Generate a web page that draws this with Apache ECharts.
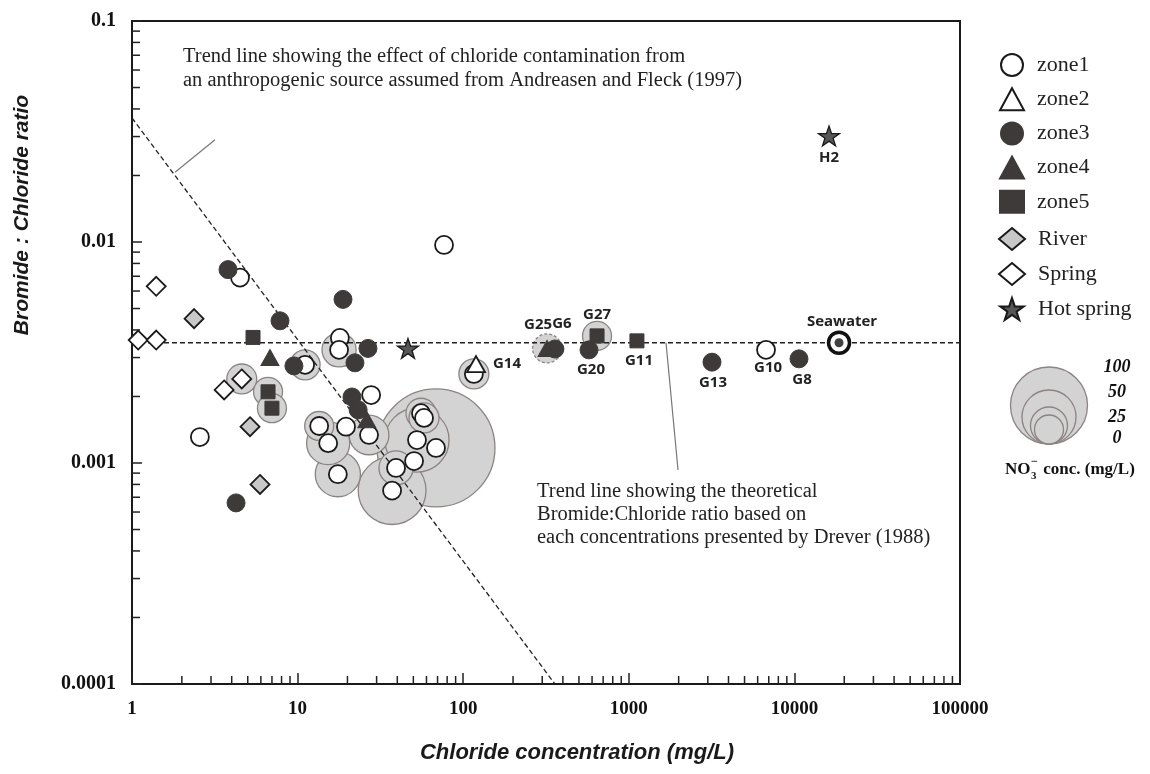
<!DOCTYPE html>
<html><head><meta charset="utf-8">
<script src="https://cdn.jsdelivr.net/npm/echarts@6/dist/echarts.min.js"></script>
<style>html,body{margin:0;padding:0;background:#fff}#c{width:1150px;height:774px}</style>
</head><body><div id="c"></div>
<script>
// ---------- data ----------
const xTickLabels = ['1','10','100','1000','10000','100000'];
const yTickLabels = ['0.0001','0.001','0.01','0.1'];
const xMinorTicks = [2,3,4,5,6,7,8,9,20,30,40,50,60,70,80,90,200,300,400,500,600,700,800,900,
  2000,3000,4000,5000,6000,7000,8000,9000,20000,30000,40000,50000,60000,70000,80000,90000];
const yMinorTicks = [0.0002,0.0003,0.0004,0.0005,0.0006,0.0007,0.0008,0.0009,
  0.002,0.003,0.004,0.005,0.006,0.007,0.008,0.009,0.02,0.03,0.04,0.05,0.06,0.07,0.08,0.09];

// [chloride mg/L, Br:Cl ratio, NO3 mg/L (null = not shown), label]
const zone1 = [
  [4.49, 0.0069, null, ''], [2.57, 0.00131, null, ''], [76.6, 0.0097, null, ''],
  [11.1, 0.00278, 3, ''], [18.0, 0.00368, null, ''], [17.8, 0.00325, 16, ''],
  [27.8, 0.00203, null, ''], [27.0, 0.00134, 29, ''], [13.5, 0.00147, 0, ''],
  [19.6, 0.00146, null, ''], [15.3, 0.00123, 34, ''], [17.5, 0.00089, 37, ''],
  [39.3, 0.00095, 16, ''], [37.2, 0.00075, 80, ''], [55.6, 0.00168, 3, ''],
  [58.0, 0.00160, 3, ''], [52.6, 0.00127, 72, ''], [68.5, 0.00117, 189, ''],
  [50.5, 0.00102, null, ''], [116, 0.00253, 3, ''], [6740, 0.00325, null, 'G10']
];
const zone2 = [ [119.5, 0.0028, null, 'G14'] ];
const zone3 = [
  [3.8, 0.0075, null, ''], [7.83, 0.0044, null, ''], [9.5, 0.00275, null, ''],
  [4.25, 0.00066, null, ''], [18.8, 0.0055, null, ''], [26.6, 0.0033, null, ''],
  [22.2, 0.00284, null, ''], [21.3, 0.00199, null, ''], [23.2, 0.00174, null, ''],
  [358, 0.00328, null, 'G6'], [575, 0.00325, null, 'G20'], [3180, 0.00286, null, 'G13'],
  [10660, 0.00296, null, 'G8']
];
const zone4 = [ [6.81, 0.0030, null, ''], [26.2, 0.00157, null, ''], [321, 0.0033, 0, 'G25'] ];
const zone5 = [
  [5.38, 0.0037, null, ''], [6.63, 0.0021, 0, ''], [7.0, 0.00177, 0, ''],
  [643, 0.00376, 0, 'G27'], [1120, 0.00357, null, 'G11']
];
const river = [ [2.37, 0.0045, null, ''], [5.16, 0.00146, null, ''], [5.93, 0.0008, null, ''] ];
const spring = [ [1.09, 0.0036, null, ''], [1.40, 0.0036, null, ''], [1.40, 0.0063, null, ''],
  [3.6, 0.00214, null, ''], [4.6, 0.0024, 3, ''] ];
const hotSpring = [ [46.4, 0.0033, null, ''], [16180, 0.0302, null, 'H2'] ];
const seawater = [ [18600, 0.0035, null, 'Seawater'] ];

const dreverLine = [[1, 0.0035], [100000, 0.0035]];
const andreasenLine = [[1, 0.0364], [358, 0.0001]];
const leader1 = [[1.82, 0.0207], [3.17, 0.029]];
const leader2 = [[1678, 0.0035], [1983, 0.00093]];

const no3LegendValues = [100, 50, 25, 0];
const annotation1 = 'Trend line showing the effect of chloride contamination from\nan anthropogenic source assumed from Andreasen and Fleck (1997)';
const annotation2 = 'Trend line showing the theoretical\nBromide:Chloride ratio based on\neach concentrations presented by Drever (1988)';

// ---------- styling / helpers ----------
const no3Scale = [0, 25, 50, 100];
const no3Diam = [29, 37, 54, 77];
function no3Size(v) {
  if (v <= no3Scale[0]) return no3Diam[0];
  for (let i = 1; i < no3Scale.length; i++) {
    if (v <= no3Scale[i]) {
      const t = (v - no3Scale[i-1]) / (no3Scale[i] - no3Scale[i-1]);
      return no3Diam[i-1] + t * (no3Diam[i] - no3Diam[i-1]);
    }
  }
  const n = no3Scale.length;
  const slope = (no3Diam[n-1] - no3Diam[n-2]) / (no3Scale[n-1] - no3Scale[n-2]);
  return no3Diam[n-1] + (v - no3Scale[n-1]) * slope;
}
const labelOffsets = {
  G10:[2,18], G14:[31,0], G25:[-9,-24], G6:[7,-25], G27:[0,-21], G20:[2,20],
  G11:[2,20], G13:[1,21], G8:[3,21], Seawater:[3,-21], H2:[0,22]
};
const dashedHalo = { G25: true };
const DARK = '#3e3a3a';
const STAR = 'path://M50,0 L61.8,35.1 L98.9,35.1 L69,56.9 L80.3,91.9 L50,70.3 L19.7,91.9 L31,56.9 L1.1,35.1 L38.2,35.1 Z';

function pts(arr) {
  return arr.map(d => {
    const o = { value: [d[0], d[1]], name: d[3] };
    if (d[3] && labelOffsets[d[3]]) o.label = { show: true, offset: labelOffsets[d[3]] };
    return o;
  });
}
const allGroups = [zone1, zone2, zone3, zone4, zone5, river, spring, hotSpring];
let bubbles = [];
allGroups.forEach(g => g.forEach(d => { if (d[2] !== null) bubbles.push(d); }));
bubbles.sort((a, b) => b[2] - a[2]);
const bubbleData = bubbles.map(d => ({
  value: [d[0], d[1], d[2]],
  itemStyle: dashedHalo[d[3]] ? { borderType: [3, 2] } : undefined
}));

const labelStyle = {
  show: false, position: 'inside', formatter: '{b}', color: '#222',
  fontFamily: 'Open Sans', fontWeight: 'bold', fontSize: 15
};
function scat(name, arr, symbol, size, fill, border, bw, extra) {
  return Object.assign({
    name, type: 'scatter', data: pts(arr), symbol, symbolSize: size, symbolKeepAspect: true,
    itemStyle: { color: fill, borderColor: border, borderWidth: bw, opacity: 1 },
    label: labelStyle, z: 3, silent: true
  }, extra || {});
}

const tickStyle = { stroke: '#222', lineWidth: 1.5 };
const legendText = { fontFamily: 'Liberation Serif', fontSize: 22, color: '#222', padding: [0, 0, 0, 8] };
const option = {
  animation: false,
  grid: { left: 132, right: 190, top: 21, bottom: 90, show: true, borderColor: '#1a1a1a', borderWidth: 2 },
  xAxis: {
    type: 'log', logBase: 10, min: 1, max: 100000,
    axisLine: { show: true, lineStyle: { color: '#1a1a1a', width: 2 } },
    axisTick: { show: true, inside: true, length: 11, lineStyle: { color: '#222', width: 1.5 } },
    splitLine: { show: false },
    axisLabel: { formatter: (v, i) => xTickLabels[i], fontFamily: 'Liberation Serif', fontWeight: 'bold',
      fontSize: 19, color: '#111', margin: 16 }
  },
  yAxis: {
    type: 'log', logBase: 10, min: 0.0001, max: 0.1,
    axisLine: { show: true, lineStyle: { color: '#1a1a1a', width: 2 } },
    axisTick: { show: true, inside: true, length: 10, lineStyle: { color: '#222', width: 1.5 } },
    splitLine: { show: false },
    axisLabel: { formatter: (v, i) => yTickLabels[i], fontFamily: 'Liberation Serif', fontWeight: 'bold',
      fontSize: 20, color: '#111', margin: 16 }
  },
  legend: [
    { data: ['zone1','zone2','zone3','zone4','zone5'], orient: 'vertical', left: 999, top: 53,
      itemWidth: 24, itemHeight: 22, itemGap: 10.2, padding: 0, selectedMode: false, textStyle: legendText },
    { data: ['River','Spring','Hot spring'], orient: 'vertical', left: 998, top: 227,
      itemWidth: 26, itemHeight: 22, itemGap: 11, padding: 0, selectedMode: false, textStyle: legendText }
  ],
  graphic: [],
  series: [
    { name: 'NO3', type: 'scatter', data: bubbleData, symbolSize: v => no3Size(v[2]), z: 1, silent: true,
      itemStyle: { color: '#d3d3d3', borderColor: '#8b8482', borderWidth: 1.3, opacity: 1 } },
    { type: 'line', data: dreverLine, showSymbol: false, z: 2, silent: true,
      lineStyle: { color: '#222', width: 1.3, type: [5, 3] } },
    { type: 'line', data: andreasenLine, showSymbol: false, z: 2, silent: true,
      lineStyle: { color: '#222', width: 1.3, type: [5, 3] } },
    { type: 'line', data: leader1, showSymbol: false, z: 2, silent: true,
      lineStyle: { color: '#777', width: 1.2 } },
    { type: 'line', data: leader2, showSymbol: false, z: 2, silent: true,
      lineStyle: { color: '#777', width: 1.2 } },
    scat('zone1', zone1, 'circle', 18, '#fff', '#1a1a1a', 1.8),
    scat('zone2', zone2, 'triangle', [18, 16], '#fff', '#1a1a1a', 1.8),
    scat('zone3', zone3, 'circle', 18, DARK, DARK, 1),
    scat('zone4', zone4, 'triangle', [18, 16], DARK, DARK, 1),
    scat('zone5', zone5, 'rect', 14, DARK, DARK, 1),
    scat('River', river, 'diamond', [19, 19], '#c8c8c8', '#1a1a1a', 1.8),
    scat('Spring', spring, 'diamond', [19, 19], '#fff', '#1a1a1a', 1.8),
    scat('Hot spring', hotSpring, STAR, 21, '#575757', '#1a1a1a', 1.3),
    scat('Seawater', seawater, 'circle', 21, '#fff', '#111', 3.5),
    { type: 'scatter', data: seawater.map(d => [d[0], d[1]]), symbol: 'circle', symbolSize: 9, z: 4, silent: true,
      itemStyle: { color: '#111' } },
    { type: 'custom', silent: true, z: 5, clip: false,
      data: xMinorTicks.map(v => [v, 0.0001]),
      renderItem: (params, api) => {
        const p = api.coord([api.value(0), api.value(1)]);
        return { type: 'line', shape: { x1: p[0], y1: p[1], x2: p[0], y2: p[1] - 8 }, style: tickStyle };
      } },
    { type: 'custom', silent: true, z: 5, clip: false,
      data: yMinorTicks.map(v => [1, v]),
      renderItem: (params, api) => {
        const p = api.coord([api.value(0), api.value(1)]);
        return { type: 'line', shape: { x1: p[0], y1: p[1], x2: p[0] + 8, y2: p[1] }, style: tickStyle };
      } }
  ]
};

// annotations, axis titles and NO3 size legend
const g = option.graphic;
g.push({ type: 'text', left: 183, top: 45, silent: true,
  style: { text: annotation1, font: '20.5px "Liberation Serif"', lineHeight: 24, fill: '#222' } });
g.push({ type: 'text', left: 537, top: 480, silent: true,
  style: { text: annotation2, font: '20.5px "Liberation Serif"', lineHeight: 23, fill: '#222' } });
g.push({ type: 'text', x: 577, y: 753, silent: true,
  style: { text: 'Chloride concentration (mg/L)', font: 'italic bold 22px "Liberation Sans"', fill: '#1a1a1a',
    align: 'center', verticalAlign: 'middle' } });
g.push({ type: 'text', x: 22, y: 215, rotation: Math.PI / 2, silent: true,
  style: { text: 'Bromide : Chloride ratio', font: 'italic bold 21px "Liberation Sans"', fill: '#1a1a1a',
    align: 'center', verticalAlign: 'middle' } });
const legBottom = 444, legCx = 1049;
const legLabelY = [367, 392, 417, 438];
no3LegendValues.forEach((v, i) => {
  const r = no3Size(v) / 2;
  g.push({ type: 'circle', silent: true, shape: { cx: legCx, cy: legBottom - r, r: r },
    style: { fill: '#d3d3d3', stroke: '#8b8482', lineWidth: 1.3 } });
  g.push({ type: 'text', x: 1117, y: legLabelY[i], silent: true,
    style: { text: String(v), font: 'italic bold 18px "Liberation Serif"', fill: '#111', align: 'center', verticalAlign: 'middle' } });
});
g.push({ type: 'text', x: 1005, y: 470, silent: true,
  style: { text: 'NO', font: 'bold 17px "Liberation Serif"', fill: '#111', verticalAlign: 'middle' } });
g.push({ type: 'text', x: 1031, y: 476, silent: true,
  style: { text: '3', font: 'bold 11px "Liberation Serif"', fill: '#111', verticalAlign: 'middle' } });
g.push({ type: 'text', x: 1031, y: 462, silent: true,
  style: { text: '\u2212', font: 'bold 12px "Liberation Serif"', fill: '#111', verticalAlign: 'middle' } });
g.push({ type: 'text', x: 1039, y: 470, silent: true,
  style: { text: ' conc. (mg/L)', font: 'bold 17px "Liberation Serif"', fill: '#111', verticalAlign: 'middle' } });

const chart = echarts.init(document.getElementById('c'), null, { renderer: 'canvas' });
chart.setOption(option);
</script>
</body></html>
